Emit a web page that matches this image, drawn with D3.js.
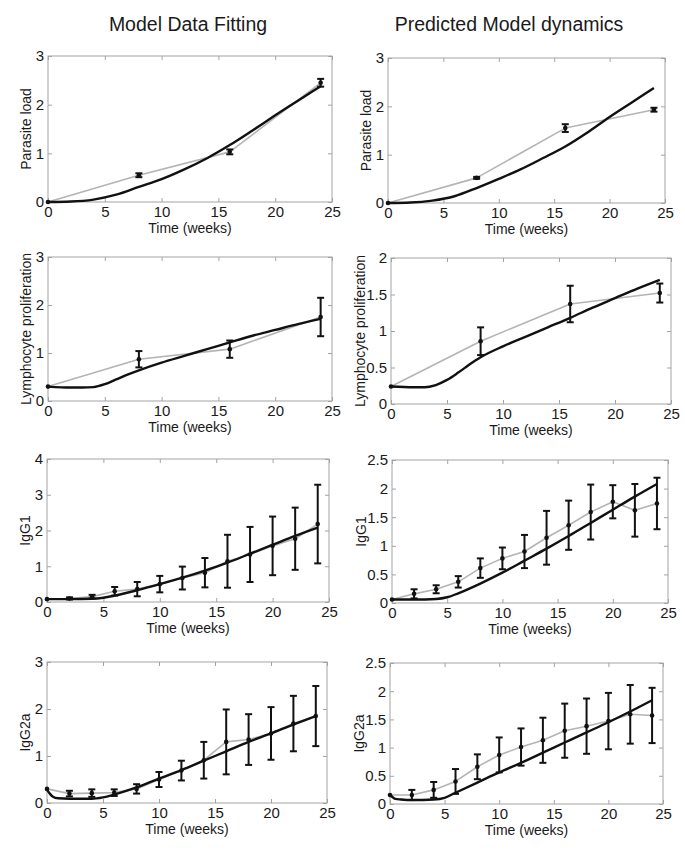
<!DOCTYPE html>
<html>
<head>
<meta charset="utf-8">
<script src="https://cdn.jsdelivr.net/npm/d3@7"></script>
<style>
  body { margin: 0; background: #fff; }
  text { font-family: "Liberation Sans", Arial, sans-serif; fill: #1a1a1a; }
</style>
</head>
<body>
<div id="chart"></div>
<script>
// sampling times
var weeksSparse = [0, 8, 16, 24];
var weeksDense = [0, 2, 4, 6, 8, 10, 12, 14, 16, 18, 20, 22, 24];

// parasite load
var parasiteFitMean = [0, 0.55, 1.03, 2.45];
var parasiteFitErr = [0, 0.04, 0.05, 0.08];
var parasitePredMean = [0, 0.52, 1.55, 1.93];
var parasitePredErr = [0, 0.02, 0.08, 0.04];
var parasiteModelT = [0, 2, 4, 6, 8, 10, 12, 14, 16, 18, 20, 22, 24];
var parasiteFitModel = [0, 0.01, 0.05, 0.15, 0.31, 0.47, 0.67, 0.9, 1.17, 1.47, 1.78, 2.08, 2.38];
var parasitePredModel = [0, 0.01, 0.05, 0.14, 0.31, 0.5, 0.7, 0.93, 1.17, 1.46, 1.78, 2.08, 2.38];

// lymphocyte proliferation
var lymphoFitMean = [0.3, 0.87, 1.08, 1.75];
var lymphoFitErr = [0, 0.17, 0.18, 0.4];
var lymphoPredMean = [0.24, 0.86, 1.37, 1.52];
var lymphoPredErr = [0, 0.19, 0.25, 0.13];
var lymphoModelT = [0, 2, 3, 4, 5, 6, 7, 8, 10, 12, 14, 16, 18, 20, 22, 24];
var lymphoFitModel = [0.3, 0.28, 0.28, 0.29, 0.35, 0.45, 0.55, 0.64, 0.8, 0.94, 1.08, 1.22, 1.36, 1.48, 1.6, 1.71];
var lymphoPredModel = [0.24, 0.23, 0.23, 0.26, 0.33, 0.43, 0.54, 0.64, 0.79, 0.92, 1.05, 1.18, 1.32, 1.45, 1.58, 1.7];

// IgG1
var igg1FitMean = [0.08, 0.1, 0.15, 0.3, 0.36, 0.5, 0.67, 0.82, 1.14, 1.33, 1.57, 1.77, 2.18];
var igg1FitErr = [0, 0.03, 0.05, 0.12, 0.2, 0.23, 0.32, 0.41, 0.74, 0.77, 0.82, 0.87, 1.1];
var igg1PredMean = [0.06, 0.16, 0.24, 0.37, 0.61, 0.78, 0.9, 1.14, 1.36, 1.59, 1.77, 1.62, 1.74];
var igg1PredErr = [0, 0.08, 0.07, 0.1, 0.17, 0.19, 0.29, 0.47, 0.43, 0.48, 0.29, 0.46, 0.45];
var igg1ModelT = [0, 2, 4, 5, 6, 8, 10, 12, 14, 16, 18, 20, 22, 24];
var igg1FitModel = [0.08, 0.08, 0.09, 0.12, 0.18, 0.33, 0.5, 0.68, 0.88, 1.1, 1.35, 1.6, 1.85, 2.08];
var igg1PredModel = [0.06, 0.06, 0.07, 0.1, 0.17, 0.34, 0.53, 0.74, 0.95, 1.17, 1.4, 1.63, 1.86, 2.08];

// IgG2a
var igg2aFitMean = [0.3, 0.2, 0.21, 0.22, 0.3, 0.5, 0.69, 0.91, 1.3, 1.35, 1.48, 1.69, 1.85];
var igg2aFitErr = [0, 0.06, 0.08, 0.07, 0.1, 0.16, 0.21, 0.39, 0.69, 0.54, 0.56, 0.59, 0.64];
var igg2aPredMean = [0.16, 0.16, 0.25, 0.4, 0.66, 0.87, 1.01, 1.13, 1.3, 1.38, 1.47, 1.59, 1.57];
var igg2aPredErr = [0, 0.09, 0.14, 0.22, 0.22, 0.31, 0.33, 0.4, 0.48, 0.49, 0.5, 0.52, 0.49];
var igg2aModelT = [0, 0.25, 0.5, 1, 2, 4, 5, 6, 8, 10, 12, 14, 16, 18, 20, 22, 24];
var igg2aFitModel = [0.28, 0.2, 0.14, 0.1, 0.09, 0.09, 0.12, 0.18, 0.33, 0.52, 0.7, 0.9, 1.1, 1.3, 1.48, 1.67, 1.85];
var igg2aPredModel = [0.16, 0.12, 0.09, 0.08, 0.07, 0.08, 0.11, 0.2, 0.38, 0.56, 0.73, 0.91, 1.09, 1.27, 1.45, 1.64, 1.84];

var columnTitles = ["Model Data Fitting", "Predicted Model dynamics"];
var xTicks = [0, 5, 10, 15, 20, 25];

var panels = [
  { label: "Parasite load", yMax: 3, yTicks: [0, 1, 2, 3], t: weeksSparse, mean: parasiteFitMean, err: parasiteFitErr, mt: parasiteModelT, model: parasiteFitModel, box: [48, 332, 56, 202] },
  { label: "Parasite load", yMax: 3, yTicks: [0, 1, 2, 3], t: weeksSparse, mean: parasitePredMean, err: parasitePredErr, mt: parasiteModelT, model: parasitePredModel, box: [388, 665, 58, 203] },
  { label: "Lymphocyte proliferation", yMax: 3, yTicks: [0, 1, 2, 3], t: weeksSparse, mean: lymphoFitMean, err: lymphoFitErr, mt: lymphoModelT, model: lymphoFitModel, box: [48, 332, 257, 401] },
  { label: "Lymphocyte proliferation", yMax: 2, yTicks: [0, 0.5, 1, 1.5, 2], t: weeksSparse, mean: lymphoPredMean, err: lymphoPredErr, mt: lymphoModelT, model: lymphoPredModel, box: [391, 671, 258, 404] },
  { label: "IgG1", yMax: 4, yTicks: [0, 1, 2, 3, 4], t: weeksDense, mean: igg1FitMean, err: igg1FitErr, mt: igg1ModelT, model: igg1FitModel, box: [47, 329, 459, 602] },
  { label: "IgG1", yMax: 2.5, yTicks: [0, 0.5, 1, 1.5, 2, 2.5], t: weeksDense, mean: igg1PredMean, err: igg1PredErr, mt: igg1ModelT, model: igg1PredModel, box: [392, 668, 460, 603] },
  { label: "IgG2a", yMax: 3, yTicks: [0, 1, 2, 3], t: weeksDense, mean: igg2aFitMean, err: igg2aFitErr, mt: igg2aModelT, model: igg2aFitModel, box: [47, 327, 662, 803] },
  { label: "IgG2a", yMax: 2.5, yTicks: [0, 0.5, 1, 1.5, 2, 2.5], t: weeksDense, mean: igg2aPredMean, err: igg2aPredErr, mt: igg2aModelT, model: igg2aPredModel, box: [390, 663, 663, 804] }
];

var svg = d3.select("#chart").append("svg")
  .attr("width", 685)
  .attr("height", 854);

svg.append("rect").attr("width", 685).attr("height", 854).attr("fill", "#fff");

// column titles
svg.selectAll(".coltitle")
  .data(columnTitles)
  .enter()
  .append("text")
  .attr("class", "coltitle")
  .attr("x", function (d, i) { return i == 0 ? 188 : 509; })
  .attr("y", 31)
  .attr("text-anchor", "middle")
  .style("font-size", "19.5px")
  .text(function (d) { return d; });

panels.forEach(drawPanel);

function drawPanel(p) {
  var x0 = p.box[0], x1 = p.box[1], y0 = p.box[2], y1 = p.box[3];

  var x = d3.scaleLinear().domain([0, 25]).range([x0, x1]);
  var y = d3.scaleLinear().domain([0, p.yMax]).range([y1, y0]);

  var g = svg.append("g");
  var axisColor = "#a3a3a3";

  // bottom axis with labels, ticks pointing in (matlab style)
  var bottom = g.append("g")
    .attr("transform", "translate(0," + y1 + ")")
    .call(d3.axisBottom(x).tickValues(xTicks).tickSize(-4).tickPadding(4).tickFormat(d3.format("d")));
  var top = g.append("g")
    .attr("transform", "translate(0," + y0 + ")")
    .call(d3.axisTop(x).tickValues(xTicks).tickSize(-4).tickFormat(""));
  var left = g.append("g")
    .attr("transform", "translate(" + x0 + ",0)")
    .call(d3.axisLeft(y).tickValues(p.yTicks).tickSize(-4).tickPadding(4).tickFormat(function (d) { return String(d); }));
  var right = g.append("g")
    .attr("transform", "translate(" + x1 + ",0)")
    .call(d3.axisRight(y).tickValues(p.yTicks).tickSize(-4).tickFormat(""));

  [bottom, top, left, right].forEach(function (a) {
    a.select(".domain").remove();
    a.selectAll("line").attr("stroke", axisColor);
    a.selectAll("text")
      .style("font-size", "15px")
      .style("font-family", "'Liberation Sans', Arial, sans-serif")
      .attr("fill", "#1a1a1a");
  });
  bottom.selectAll("text").attr("dy", "0.72em");

  g.append("rect")
    .attr("x", x0)
    .attr("y", y0)
    .attr("width", x1 - x0)
    .attr("height", y1 - y0)
    .attr("fill", "none")
    .attr("stroke", axisColor)
    .attr("stroke-width", 1);

  // axis labels
  g.append("text")
    .attr("x", (x0 + x1) / 2)
    .attr("y", y1 + 31)
    .attr("text-anchor", "middle")
    .style("font-size", "14px")
    .text("Time (weeks)");

  var decimals = p.yTicks.some(function (v) { return v % 1 != 0; });
  var labelOff = decimals ? 31 : 22;

  g.append("text")
    .attr("transform", "translate(" + (x0 - labelOff) + "," + ((y0 + y1) / 2) + ") rotate(-90)")
    .attr("text-anchor", "middle")
    .attr("dy", "0.35em")
    .style("font-size", "14px")
    .text(p.label);

  var pts = p.t.map(function (t, i) { return { t: t, v: p.mean[i], e: p.err[i] }; });
  var modelPts = p.mt.map(function (t, i) { return { t: t, v: p.model[i] }; });

  // grey data line
  var dataLine = d3.line()
    .x(function (d) { return x(d.t); })
    .y(function (d) { return y(d.v); });

  g.append("path")
    .datum(pts)
    .attr("d", dataLine)
    .attr("fill", "none")
    .attr("stroke", "#b4b4b4")
    .attr("stroke-width", 1.6)
    .attr("stroke-linejoin", "round");

  // error bars
  var bars = g.selectAll(".err")
    .data(pts.filter(function (d) { return d.e > 0; }))
    .enter()
    .append("g");

  bars.append("line")
    .attr("x1", function (d) { return x(d.t); })
    .attr("x2", function (d) { return x(d.t); })
    .attr("y1", function (d) { return y(d.v - d.e); })
    .attr("y2", function (d) { return y(d.v + d.e); })
    .attr("stroke", "#111")
    .attr("stroke-width", 2);

  [-1, 1].forEach(function (s) {
    bars.append("line")
      .attr("x1", function (d) { return x(d.t) - 3.5; })
      .attr("x2", function (d) { return x(d.t) + 3.5; })
      .attr("y1", function (d) { return y(d.v + s * d.e); })
      .attr("y2", function (d) { return y(d.v + s * d.e); })
      .attr("stroke", "#111")
      .attr("stroke-width", 2);
  });

  // model curve
  var modelLine = d3.line()
    .x(function (d) { return x(d.t); })
    .y(function (d) { return y(d.v); })
    .curve(d3.curveMonotoneX);

  g.append("path")
    .datum(modelPts)
    .attr("d", modelLine)
    .attr("fill", "none")
    .attr("stroke", "#111")
    .attr("stroke-width", 2.4);

  // data points
  g.selectAll(".pt")
    .data(pts)
    .enter()
    .append("circle")
    .attr("cx", function (d) { return x(d.t); })
    .attr("cy", function (d) { return y(d.v); })
    .attr("r", 2.3)
    .attr("fill", "#111");
}
</script>
</body>
</html>
